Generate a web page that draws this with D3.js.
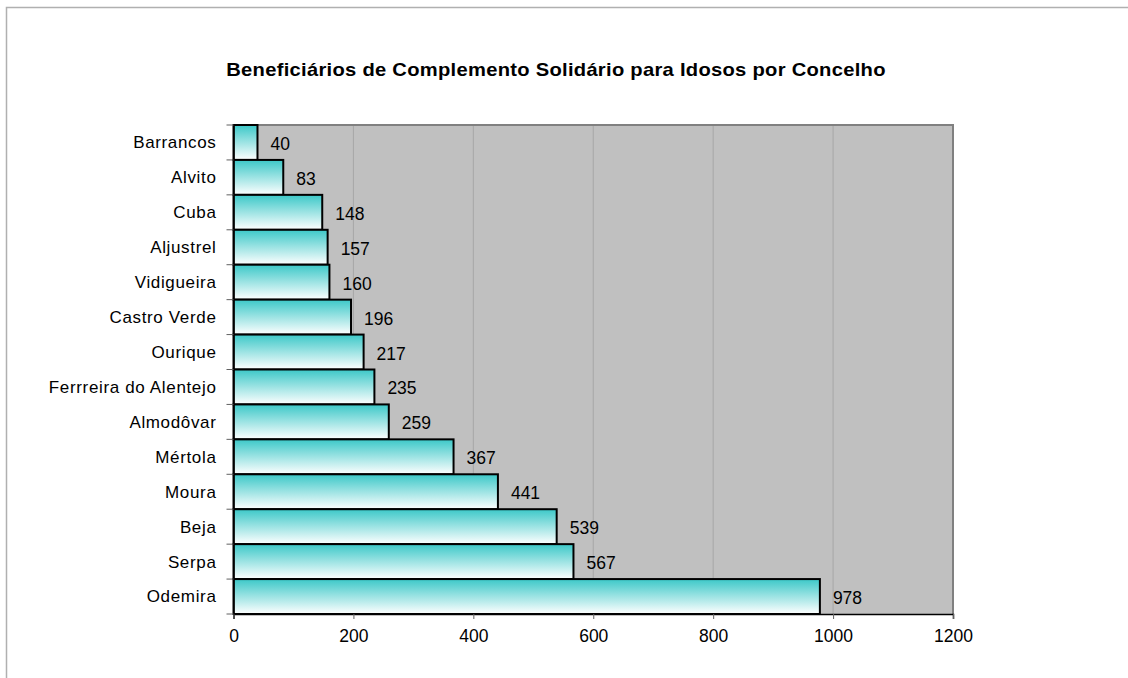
<!DOCTYPE html>
<html><head><meta charset="utf-8">
<script src="https://cdn.jsdelivr.net/npm/d3@7"></script>
<style>body{margin:0;background:#fff}svg{display:block}text{font-family:"Liberation Sans",Arial,sans-serif}</style>
</head><body><svg id="c" width="1128" height="678"></svg>
<script>
const categories = ["Barrancos","Alvito","Cuba","Aljustrel","Vidigueira","Castro Verde","Ourique","Ferrreira do Alentejo","Almodôvar","Mértola","Moura","Beja","Serpa","Odemira"];
const values = [40,83,148,157,160,196,217,235,259,367,441,539,567,978];
const xTicks = [0,200,400,600,800,1000,1200];
const title = "Beneficiários de Complemento Solidário para Idosos por Concelho";

const svg = d3.select("#c");
const L = 233.5, R = 953, T = 125, B = 614;
const x = d3.scaleLinear().domain([0,1200]).range([L,R]);
const y = d3.scaleBand().domain(categories).range([T,B]).padding(0);

// outer frame
svg.append("path").attr("d","M6.5,678 L6.5,7.5 L1128,7.5").attr("fill","none").attr("stroke","#b0b0b0").attr("stroke-width",1.5);

const defs = svg.append("defs");
const g = defs.append("linearGradient").attr("id","bg").attr("x1",0).attr("y1",0).attr("x2",0).attr("y2",1);
g.append("stop").attr("offset","0%").attr("stop-color","#3cc8c8");
g.append("stop").attr("offset","100%").attr("stop-color","#ffffff");

svg.append("rect").attr("x",L).attr("y",T).attr("width",R-L).attr("height",B-T).attr("fill","#c0c0c0");
svg.append("g").selectAll("line").data(xTicks.slice(1,-1)).join("line")
  .attr("x1",d=>x(d)).attr("x2",d=>x(d)).attr("y1",T).attr("y2",B).attr("stroke","#a6a6a6").attr("stroke-width",1);
svg.append("path").attr("d",`M${L},${T} L${R},${T} L${R},${B}`).attr("fill","none").attr("stroke","#808080").attr("stroke-width",2);

svg.append("g").selectAll("rect").data(values).join("rect")
  .attr("x",x(0)).attr("y",(d,i)=>y(categories[i])).attr("width",d=>x(d)-x(0)).attr("height",y.bandwidth())
  .attr("fill","url(#bg)").attr("stroke","#000").attr("stroke-width",2);

svg.append("g").selectAll("text").data(values).join("text")
  .attr("x",d=>x(d)+13).attr("y",(d,i)=>y(categories[i])+y.bandwidth()/2+7.5)
  .attr("font-size",17.5).attr("fill","#000").text(d=>d);

// x axis
const xa = svg.append("g").attr("transform",`translate(0,${B})`).call(d3.axisBottom(x).tickValues(xTicks).tickSize(5).tickPadding(11).tickFormat(d3.format("d")));
xa.select(".domain").attr("stroke","#000").attr("stroke-width",1.5);
xa.selectAll(".tick line").attr("stroke","#606060");
xa.selectAll("text").attr("font-size",17.5).attr("font-family","Liberation Sans, Arial, sans-serif").attr("fill","#000");

// y axis
const ya = svg.append("g").attr("transform",`translate(${L},0)`).call(d3.axisLeft(y).tickSize(0).tickPadding(17));
ya.select(".domain").attr("stroke","#000").attr("stroke-width",1.5);
ya.selectAll("text").attr("font-size",17).attr("letter-spacing","0.65px").attr("font-family","Liberation Sans, Arial, sans-serif").attr("fill","#000").attr("dy","0.35em");
svg.append("g").selectAll("line").data(d3.range(categories.length+1)).join("line")
  .attr("x1",L-7).attr("x2",L).attr("y1",i=>T+i*y.bandwidth()).attr("y2",i=>T+i*y.bandwidth()).attr("stroke","#606060");

svg.append("g").attr("transform","translate(556,76) scale(1.12,1)")
  .append("text").attr("x",0).attr("y",0).attr("text-anchor","middle").attr("font-size",18).attr("letter-spacing","0.25px").attr("font-weight","bold").text(title);
</script></body></html>
